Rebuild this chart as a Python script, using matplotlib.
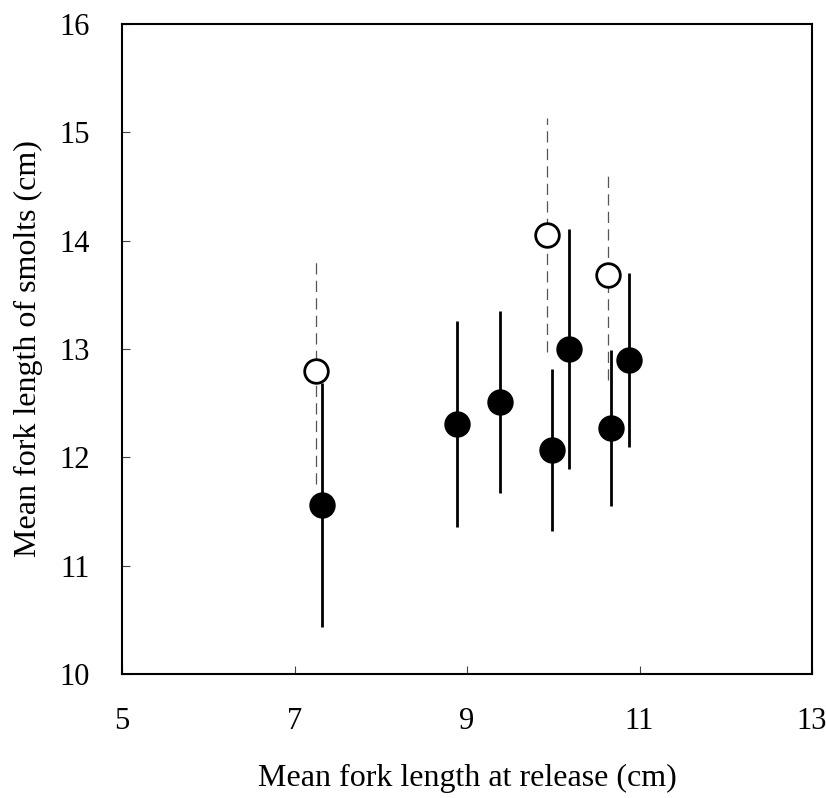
import matplotlib
matplotlib.use("Agg")
import matplotlib.pyplot as plt

# Open circles (dashed error bars)
open_x = [7.25, 9.93, 10.63]
open_y = [12.80, 14.05, 13.68]
open_err = [1.05, 1.08, 0.97]

# Filled circles (solid error bars)
filled_x = [7.32, 8.88, 9.38, 9.98, 10.18, 10.67, 10.88]
filled_y = [11.56, 12.31, 12.51, 12.07, 13.00, 12.27, 12.90]
filled_err = [1.13, 0.95, 0.84, 0.75, 1.11, 0.72, 0.80]

xticks = [5, 7, 9, 11, 13]
yticks = [10, 11, 12, 13, 14, 15, 16]

plt.rcParams['font.family'] = ['Liberation Serif', 'DejaVu Serif']

fig = plt.figure(figsize=(8.26, 7.98), dpi=100)
ax = fig.add_axes([122/826, 1-674/798, (812-122)/826, (674-24)/798])

# dashed error bars for open
for x, y, e in zip(open_x, open_y, open_err):
    ax.plot([x, x], [y - e, y + e], color='#555555', lw=0.9,
            dashes=(9, 5), zorder=1)
# solid error bars for filled
for x, y, e in zip(filled_x, filled_y, filled_err):
    ax.plot([x, x], [y - e, y + e], color='black', lw=2.0, zorder=2,
            solid_capstyle='butt')

ax.plot(open_x, open_y, 'o', ms=17, mfc='white', mec='black', mew=2.0,
        linestyle='none', zorder=3)
ax.plot(filled_x, filled_y, 'o', ms=19, mfc='black', mec='black', mew=0,
        linestyle='none', zorder=4)

ax.set_xlim(5, 13)
ax.set_ylim(10, 16)
ax.set_xticks(xticks)
ax.set_yticks(yticks)
ax.set_xticklabels([str(v) for v in xticks])
ax.set_yticklabels([str(v) for v in yticks])
ax.tick_params(axis='both', direction='in', length=6, width=0.8,
               labelsize=22, color='#444444')
ax.tick_params(axis='y', pad=23)
ax.tick_params(axis='x', pad=24)
for s in ax.spines.values():
    s.set_linewidth(1.5)

ax.set_xlabel('Mean fork length at release (cm)', fontsize=23, labelpad=20)
ax.set_ylabel('Mean fork length of smolts (cm)', fontsize=23, labelpad=12)

fig.savefig('out.png', dpi=100)
